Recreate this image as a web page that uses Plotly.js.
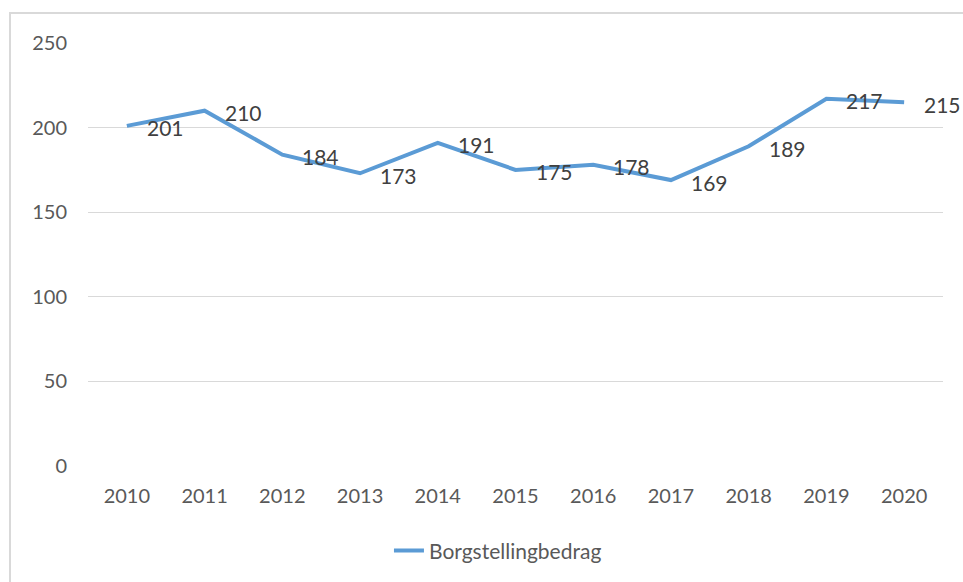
<!DOCTYPE html>
<html>
<head>
<meta charset="utf-8">
<script src="https://cdn.plot.ly/plotly-3.0.1.min.js"></script>
<style>
html,body{margin:0;padding:0;background:#fff;}
#frame{position:absolute;left:9px;top:12px;width:960px;height:580px;border-top:2px solid #d9d9d9;border-left:2px solid #d9d9d9;}
#chart{position:absolute;left:0;top:0;width:963px;height:582px;}
</style>
</head>
<body>
<div id="frame"></div>
<div id="chart"></div>
<script>
const years = ['2010','2011','2012','2013','2014','2015','2016','2017','2018','2019','2020'];
const values = [201, 210, 184, 173, 191, 175, 178, 169, 189, 217, 215];
const seriesName = 'Borgstellingbedrag';
const yTicks = [0, 50, 100, 150, 200, 250];

const FONT = 'Lato, "Open Sans", sans-serif';

const trace = {
  x: years, y: values, type: 'scatter', mode: 'lines', name: seriesName,
  line: {color: '#5b9bd5', width: 4},
  hoverinfo: 'x+y'
};

const annotations = years.map((yr, i) => ({
  x: i, y: values[i], xref: 'x', yref: 'y',
  text: String(values[i]), showarrow: false,
  xanchor: 'left', yanchor: 'middle', xshift: 18, yshift: -2,
  font: {family: FONT, size: 21, color: '#404040'}
}));

const layout = {
  width: 963, height: 582,
  margin: {l: 88, r: 20, t: 43, b: 115},
  paper_bgcolor: 'rgba(0,0,0,0)', plot_bgcolor: 'rgba(0,0,0,0)',
  showlegend: true,
  legend: {orientation: 'h', x: 0.352, xanchor: 'left', y: -0.198, yanchor: 'middle',
    font: {family: FONT, size: 21, color: '#595959'}, bgcolor: 'rgba(0,0,0,0)'},
  xaxis: {type: 'category', range: [-0.5, years.length - 0.5], autorange: false,
    showgrid: false, zeroline: false, showline: false, ticks: '',
    ticklabelstandoff: 16,
    tickfont: {family: FONT, size: 20, color: '#595959'}},
  yaxis: {range: [0, 250], autorange: false, tickvals: yTicks, showgrid: true, gridcolor: '#d9d9d9', gridwidth: 1,
    zeroline: false, showline: false, ticks: '', ticklabelstandoff: 20,
    tickfont: {family: FONT, size: 20, color: '#595959'}},
  annotations: annotations
};

Plotly.newPlot('chart', [trace], layout, {displayModeBar: false, staticPlot: true});
</script>
</body>
</html>
